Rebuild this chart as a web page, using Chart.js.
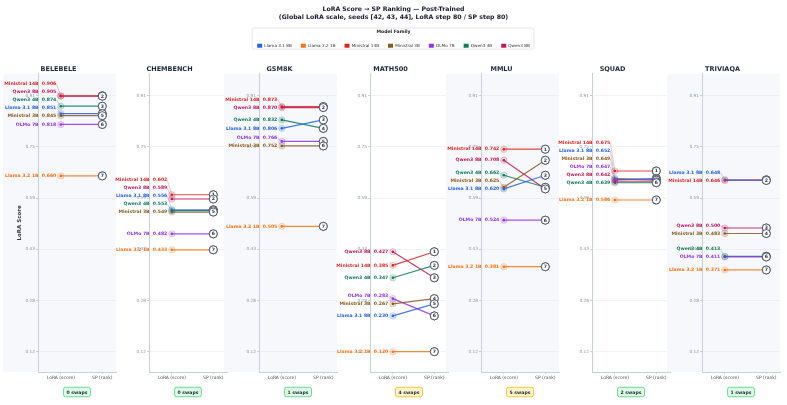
<!DOCTYPE html>
<html lang="en">
<head>
<meta charset="UTF-8">
<title>LoRA Score → SP Ranking — Post-Trained</title>
<script src="https://cdn.jsdelivr.net/npm/chart.js"></script>
<style>
    html, body { margin: 0; padding: 0; background: #fff; }
    body { width: 787px; height: 405px; position: relative; overflow: hidden; }
    canvas { position: absolute; }
</style>
</head>
<body>
<canvas id="header" width="787" height="52" style="left:0;top:0;width:787px;height:52px"></canvas>

<script>
    const FONT = "'DejaVu Sans', sans-serif";
    Chart.defaults.font.family = FONT;

    const titleLines = ['LoRA Score \u2192 SP Ranking \u2014 Post-Trained',
                        '(Global LoRA scale, seeds [42, 43, 44], LoRA step 80 / SP step 80)'];
    const models = ['Llama 3.1 8B', 'Llama 3.2 1B', 'Ministral 14B', 'Ministral 3B', 'OLMo 7B', 'Qwen3 4B', 'Qwen3 8B'];
    const modelColors = ['#2563eb', '#f97316', '#dc2626', '#8b5a1e', '#9333ea', '#0f7b5a', '#c2185b'];
    const benchmarks = ['BELEBELE', 'CHEMBENCH', 'GSM8K', 'MATH500', 'MMLU', 'SQUAD', 'TRIVIAQA'];
    const sideLabels = ['LoRA (score)', 'SP (rank)'];
    const yTicks = [0.120, 0.2772, 0.4344, 0.5916, 0.7488, 0.906];

    // LoRA score and SP rank per model (model order as above)
    const belebeleScores  = [0.851, 0.660, 0.906, 0.845, 0.818, 0.874, 0.905];
    const belebeleRanks   = [4, 7, 1, 5, 6, 3, 2];
    const chembenchScores = [0.556, 0.433, 0.602, 0.549, 0.482, 0.553, 0.589];
    const chembenchRanks  = [3, 7, 1, 5, 6, 4, 2];
    const gsm8kScores     = [0.806, 0.505, 0.873, 0.752, 0.766, 0.832, 0.870];
    const gsm8kRanks      = [3, 7, 1, 6, 5, 4, 2];
    const math500Scores   = [0.230, 0.120, 0.385, 0.267, 0.283, 0.347, 0.427];
    const math500Ranks    = [5, 7, 1, 4, 6, 2, 3];
    const mmluScores      = [0.620, 0.381, 0.742, 0.625, 0.524, 0.662, 0.708];
    const mmluRanks       = [3, 7, 1, 2, 6, 4, 5];
    const squadScores     = [0.652, 0.586, 0.675, 0.649, 0.647, 0.639, 0.642];
    const squadRanks      = [3, 7, 1, 4, 2, 6, 5];
    const triviaqaScores  = [0.648, 0.371, 0.646, 0.483, 0.411, 0.413, 0.500];
    const triviaqaRanks   = [2, 7, 1, 4, 6, 5, 3];

    const scoresByBench = [belebeleScores, chembenchScores, gsm8kScores, math500Scores, mmluScores, squadScores, triviaqaScores];
    const ranksByBench = [belebeleRanks, chembenchRanks, gsm8kRanks, math500Ranks, mmluRanks, squadRanks, triviaqaRanks];

    function rgba(hex, a) {
        const n = parseInt(hex.slice(1), 16);
        return `rgba(${n >> 16},${(n >> 8) & 255},${n & 255},${a})`;
    }

    function countSwaps(scores, ranks) {
        let n = 0;
        for (let a = 0; a < scores.length; a++)
            for (let b = 0; b < scores.length; b++)
                if (scores[a] > scores[b] && ranks[a] > ranks[b]) n++;
        return n;
    }

    // ---------- header: title + legend ----------
    const legendFrame = {
        id: 'legendFrame',
        beforeDraw(chart) {
            const lg = chart.legend;
            if (!lg || !lg.legendHitBoxes.length) return;
            const hb = lg.legendHitBoxes;
            const x0 = Math.min(...hb.map(b => b.left)) - 5;
            const x1 = Math.max(...hb.map(b => b.left + b.width)) + 4;
            const ctx = chart.ctx;
            ctx.save();
            ctx.beginPath();
            ctx.roundRect(x0, lg.top + 1, x1 - x0, lg.bottom - lg.top - 5, 2);
            ctx.fillStyle = '#fff';
            ctx.shadowColor = 'rgba(0,0,0,0.08)';
            ctx.shadowBlur = 2;
            ctx.fill();
            ctx.shadowBlur = 0;
            ctx.strokeStyle = '#dfe4ec';
            ctx.lineWidth = 0.8;
            ctx.stroke();
            ctx.restore();
        }
    };

    new Chart(document.getElementById('header'), {
        type: 'bar',
        data: {
            labels: [],
            datasets: models.map((m, k) => ({ label: m, data: [], backgroundColor: modelColors[k], borderWidth: 0 }))
        },
        options: {
            responsive: false,
            animation: false,
            events: [],
            scales: { x: { display: false }, y: { display: false } },
            plugins: {
                tooltip: { enabled: false },
                title: {
                    display: true,
                    text: titleLines,
                    color: '#1a1a2e',
                    font: { size: 6.2, weight: 'bold', lineHeight: 1.3 },
                    padding: { top: 5, bottom: 6 }
                },
                legend: {
                    position: 'top',
                    title: {
                        display: true,
                        text: 'Model Family',
                        color: '#222',
                        font: { size: 4.6, weight: 'bold' },
                        padding: { top: 2, bottom: 0 }
                    },
                    labels: { boxWidth: 5, boxHeight: 4, padding: 9, color: '#333', font: { size: 4.2 } }
                }
            }
        },
        plugins: [legendFrame]
    });

    // ---------- panels ----------
    const panelDeco = {
        id: 'panelDeco',
        beforeDraw(chart, args, o) {
            const { ctx, chartArea: a } = chart;
            if (o.shade) {
                ctx.save();
                ctx.fillStyle = '#f7f8fb';
                ctx.fillRect(a.left - 35, a.top, a.right - a.left + 35, a.bottom - a.top);
                ctx.restore();
            }
        },
        beforeDatasetsDraw(chart, args, o) {
            const ctx = chart.ctx;
            const dots = chart.getDatasetMeta(1).data;
            const order = o.scores.map((v, k) => k).sort((p, q) => o.scores[p] - o.scores[q]);
            const labelY = [];
            let prev = Infinity;
            order.forEach(k => {
                const y = Math.min(dots[k].y, prev - 8);
                labelY[k] = y;
                prev = y;
            });
            chart.$labelY = labelY;
            ctx.save();
            ctx.lineWidth = 0.5;
            o.scores.forEach((v, k) => {
                if (Math.abs(labelY[k] - dots[k].y) < 0.6) return;
                ctx.strokeStyle = rgba(modelColors[k], 0.55);
                ctx.beginPath();
                ctx.moveTo(dots[k].x - 4.5, labelY[k]);
                ctx.lineTo(dots[k].x, dots[k].y);
                ctx.stroke();
            });
            ctx.restore();
        },
        afterDatasetsDraw(chart, args, o) {
            const ctx = chart.ctx;
            const dots = chart.getDatasetMeta(1).data;
            const circles = chart.getDatasetMeta(0).data;
            ctx.save();
            // labels
            ctx.font = `bold 4.6px ${FONT}`;
            ctx.textAlign = 'right';
            ctx.textBaseline = 'middle';
            o.scores.forEach((v, k) => {
                ctx.fillStyle = modelColors[k];
                ctx.fillText(`${models[k]}  ${v.toFixed(3)}`, dots[k].x - 4.5, chart.$labelY[k]);
            });
            // rank circles, drawn in rank order so later ranks sit on top
            const byRank = o.ranks.map((r, k) => k).sort((p, q) => o.ranks[p] - o.ranks[q]);
            ctx.textAlign = 'center';
            byRank.forEach(k => {
                const el = circles[k];
                ctx.beginPath();
                ctx.arc(el.x, el.y, 4, 0, Math.PI * 2);
                ctx.fillStyle = '#fff';
                ctx.fill();
                ctx.lineWidth = 0.9;
                ctx.strokeStyle = '#3f4a5c';
                ctx.stroke();
                ctx.fillStyle = '#2d3748';
                ctx.fillText(String(o.ranks[k]), el.x, el.y + 0.2);
            });
            ctx.restore();
        },
        afterDraw(chart, args, o) {
            const { ctx, chartArea: a } = chart;
            const swaps = countSwaps(o.scores, o.ranks);
            const warn = swaps >= 3;
            const cx = (a.left + a.right) / 2, cy = 337;
            const w = 27, h = 9.5;
            ctx.save();
            ctx.beginPath();
            ctx.roundRect(cx - w / 2, cy - h / 2, w, h, 2);
            ctx.fillStyle = warn ? '#fef6c8' : '#dcfce7';
            ctx.fill();
            ctx.lineWidth = 0.9;
            ctx.strokeStyle = warn ? '#f2c230' : '#5fd68a';
            ctx.stroke();
            ctx.fillStyle = '#1f2937';
            ctx.font = `bold 4.6px ${FONT}`;
            ctx.textAlign = 'center';
            ctx.textBaseline = 'middle';
            ctx.fillText(`${swaps} swaps`, cx, cy + 0.3);
            ctx.restore();
        }
    };

    benchmarks.forEach((bench, i) => {
        const scores = scoresByBench[i];
        const ranks = ranksByBench[i];
        const sorted = [...scores].sort((p, q) => q - p);
        const spine = 38 + 110.7 * i;

        const cv = document.createElement('canvas');
        cv.width = 152; cv.height = 350;
        cv.style.cssText = `left:${spine - 37}px;top:55px;width:152px;height:350px`;
        document.body.appendChild(cv);

        const datasets = [
            {   // SP rank circles
                data: ranks.map(r => ({ x: 1, y: sorted[r - 1] })),
                pointRadius: 4, pointBackgroundColor: '#fff', pointBorderColor: '#3f4a5c', pointBorderWidth: 0.9,
                order: 0
            },
            {   // LoRA dots
                data: scores.map(v => ({ x: 0, y: v })),
                pointRadius: 1.3, pointBackgroundColor: modelColors, pointBorderWidth: 0,
                order: 1
            },
            {   // halos
                data: scores.map(v => ({ x: 0, y: v })),
                pointRadius: 3.2,
                pointBackgroundColor: modelColors.map(c => rgba(c, 0.16)),
                pointBorderColor: modelColors.map(c => rgba(c, 0.35)),
                pointBorderWidth: 0.6,
                order: 2
            }
        ];
        models.forEach((m, k) => {
            datasets.push({
                data: [{ x: 0, y: scores[k] }, { x: 1, y: sorted[ranks[k] - 1] }],
                showLine: true,
                borderColor: rgba(modelColors[k], 0.85),
                borderWidth: 1.2,
                pointRadius: 0,
                order: 3 + k
            });
        });

        new Chart(cv, {
            type: 'scatter',
            data: { datasets },
            options: {
                responsive: false,
                animation: false,
                events: [],
                layout: { padding: { left: 0, right: 37, top: 0, bottom: 0 } },
                plugins: {
                    legend: { display: false },
                    tooltip: { enabled: false },
                    title: {
                        display: true,
                        text: bench,
                        color: '#1e293b',
                        font: { size: 6.5, weight: 'bold' },
                        padding: { top: 10, bottom: 1 }
                    },
                    panelDeco: { scores, ranks, shade: i % 2 === 0 }
                },
                scales: {
                    x: {
                        type: 'linear',
                        min: -0.55, max: 1.33,
                        afterBuildTicks: s => { s.ticks = [{ value: 0 }, { value: 1 }]; },
                        afterFit: s => { s.height = 33; },
                        ticks: { callback: v => sideLabels[v], color: '#555', font: { size: 4.5 }, padding: 1, autoSkip: false, maxRotation: 0 },
                        grid: { display: true, drawOnChartArea: false, tickLength: 2, color: '#c8d0dc' },
                        border: { color: '#c8d0dc', width: 1 }
                    },
                    y: {
                        min: 0.0576, max: 0.9736,
                        afterBuildTicks: s => { s.ticks = yTicks.map(v => ({ value: v })); },
                        afterFit: s => { s.width = 37; },
                        ticks: { callback: v => v.toFixed(2), color: '#8c96a8', font: { size: 4.3 }, padding: 1 },
                        grid: { color: '#e6eaf0', lineWidth: 0.6, tickLength: 2, tickColor: '#a8b0bd' },
                        border: { color: '#c8d0dc', width: 1 },
                        title: {
                            display: i === 0,
                            text: 'LoRA Score',
                            color: '#3a3a3a',
                            font: { size: 5.5, weight: 'bold' },
                            padding: { top: 15.5, bottom: 0 }
                        }
                    }
                }
            },
            plugins: [panelDeco]
        });
    });
</script>
</body>
</html>
